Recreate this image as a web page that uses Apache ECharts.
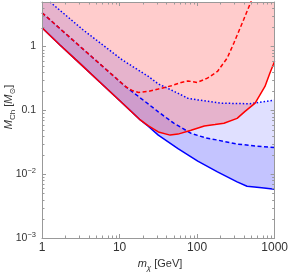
<!DOCTYPE html>
<html><head><meta charset="utf-8">
<script src="https://cdn.jsdelivr.net/npm/echarts@6/dist/echarts.min.js"></script>
<style>html,body{margin:0;padding:0;background:#fff}#c{width:291px;height:274px}</style>
</head><body><div id="c"></div>
<script>
// axis ranges and ticks
const X_MIN = 1, X_MAX = 1000, Y_MIN = 0.001, Y_MAX = 5;
const xTicks = [1, 10, 100, 1000];
const yTicks = [0.001, 0.01, 0.1, 1];
const xMinor = [2,3,4,5,6,7,8,9,20,30,40,50,60,70,80,90,200,300,400,500,600,700,800,900];
const yMinor = [0.002,0.003,0.004,0.005,0.006,0.007,0.008,0.009,0.02,0.03,0.04,0.05,0.06,0.07,0.08,0.09,0.2,0.3,0.4,0.5,0.6,0.7,0.8,0.9,2,3,4];

// red solid (lower edge of red region)
const redSolidM = [1, 1.69, 3, 5.46, 10, 18.5, 23.6, 31.6, 44.9, 56.7, 83.6, 124, 170, 222, 328, 415, 560, 750, 869, 1000];
const redSolidV = [1.97, 1.07, 0.56, 0.284, 0.1426, 0.0708, 0.057, 0.046, 0.041, 0.0425, 0.049, 0.057, 0.060, 0.063, 0.075, 0.0965, 0.13, 0.237, 0.385, 0.59];
// red dashed
const redDashM = [1, 3, 11.9, 14.5, 17.6, 24, 31.6, 46.6, 62.4, 76, 100, 136, 183, 245, 298, 399, 509];
const redDashV = [3.4, 1.04, 0.237, 0.205, 0.191, 0.2, 0.216, 0.243, 0.274, 0.29, 0.274, 0.321, 0.408, 0.664, 1.14, 2.66, 5.5];
// blue solid
const blueSolidM = [1, 1.69, 3, 5.46, 10, 18.5, 23.6, 31.6, 56.7, 102, 183, 328, 440, 682, 1000];
const blueSolidV = [1.97, 1.07, 0.56, 0.284, 0.1426, 0.0708, 0.056, 0.041, 0.0251, 0.016, 0.0109, 0.00757, 0.00647, 0.00613, 0.0058];
// blue dashed
const blueDashM = [1, 3, 11.9, 17.6, 23.6, 31.6, 50, 83.6, 130, 183, 328, 600, 1000];
const blueDashV = [3.4, 1.04, 0.237, 0.165, 0.125, 0.095, 0.063, 0.0437, 0.037, 0.0343, 0.0297, 0.0275, 0.0261];
// blue dotted
const blueDotM = [1.27, 3.35, 10.8, 23.6, 31.6, 50, 76, 102, 200, 480, 1000];
const blueDotV = [5, 1.85, 0.62, 0.34, 0.26, 0.2, 0.155, 0.146, 0.13, 0.127, 0.145];

const zip = (a, b) => a.map((v, i) => [v, b[i]]);
const RS = zip(redSolidM, redSolidV), RD = zip(redDashM, redDashV);
const BS = zip(blueSolidM, blueSolidV), BD = zip(blueDashM, blueDashV), BT = zip(blueDotM, blueDotV);

const polyBlue1 = BS.concat(BT.slice().reverse(), [[X_MIN, Y_MAX]]);
const polyBlue2 = BS.concat(BD.slice().reverse());
const polyRed = RS.concat([[X_MAX, Y_MAX], [X_MIN, Y_MAX]]);

const FONT = '"Liberation Sans", Arial, "DejaVu Sans", sans-serif';
const TXT = '#333';
const AX = '#999';

function poly(points, color) {
  return {
    type: 'custom', coordinateSystem: 'cartesian2d', silent: true, clip: true, z: 1,
    data: [[X_MIN, Y_MIN]],
    renderItem: function (params, api) {
      return { type: 'polygon', shape: { points: points.map(p => api.coord(p)) }, style: { fill: color } };
    }
  };
}
function line(data, color, type, w) {
  return {
    type: 'line', data: data, showSymbol: false, silent: true, z: 2, clip: true,
    lineStyle: { color: color, width: w || 1.5, type: type || 'solid' }
  };
}
const cr = v => Math.round(v) + 0.5;
const minorSeries = {
  type: 'custom', coordinateSystem: 'cartesian2d', silent: true, z: 6,
  data: [[X_MIN, Y_MIN]],
  renderItem: function (params, api) {
    const ch = [];
    const L = 2.5;
    const mk = (x1, y1, x2, y2) => ({ type: 'line', shape: { x1, y1, x2, y2 }, style: { stroke: AX, lineWidth: 1 } });
    xMinor.forEach(v => {
      const b = api.coord([v, Y_MIN]), t = api.coord([v, Y_MAX]);
      ch.push(mk(cr(b[0]), b[1], cr(b[0]), b[1] - L));
      ch.push(mk(cr(t[0]), t[1], cr(t[0]), t[1] + L));
    });
    yMinor.forEach(v => {
      const l = api.coord([X_MIN, v]), r = api.coord([X_MAX, v]);
      ch.push(mk(l[0], cr(l[1]), l[0] + L, cr(l[1])));
      ch.push(mk(r[0], cr(r[1]), r[0] - L, cr(r[1])));
    });
    return { type: 'group', children: ch };
  }
};

function yFmt(v) {
  const e = Math.round(Math.log10(v));
  if (Math.abs(Math.log10(v) - e) > 1e-6) return '';
  if (e === 0) return '1';
  if (e === -1) return '0.1';
  return '10{sup|' + (e < 0 ? '\u2212' + (-e) : e) + '}';
}
function xFmt(v) {
  const e = Math.round(Math.log10(v));
  if (Math.abs(Math.log10(v) - e) > 1e-6) return '';
  return String(Math.round(v));
}

const baseAxisX = {
  type: 'log', logBase: 10, min: X_MIN, max: X_MAX, z: 5,
  axisLine: { show: true, onZero: false, lineStyle: { color: AX, width: 1 } },
  axisTick: { show: true, inside: true, length: 4, lineStyle: { color: AX } },
  splitLine: { show: false }, minorTick: { show: false }
};
const baseAxisY = {
  type: 'log', logBase: 10, min: Y_MIN, max: Y_MAX, z: 5,
  axisLine: { show: true, onZero: false, lineStyle: { color: AX, width: 1 } },
  axisTick: { show: true, inside: true, length: 4, lineStyle: { color: AX } },
  splitLine: { show: false }, minorTick: { show: false }
};

const chart = echarts.init(document.getElementById('c'), null, { renderer: 'canvas' });
chart.setOption({
  animation: false,
  backgroundColor: '#fff',
  grid: { left: 42, right: 13, top: 2, bottom: 36, containLabel: false },
  xAxis: [
    Object.assign({}, baseAxisX, { position: 'bottom',
      axisLabel: { formatter: xFmt, fontSize: 12, fontFamily: FONT, color: TXT, margin: 4, showMaxLabel: true, showMinLabel: true, hideOverlap: false } }),
    Object.assign({}, baseAxisX, { position: 'top', axisLabel: { show: false } })
  ],
  yAxis: [
    Object.assign({}, baseAxisY, { position: 'left',
      axisLabel: { formatter: yFmt, fontSize: 10.5, fontFamily: FONT, color: TXT, margin: 6, lineHeight: 14,
        rich: { sup: { fontSize: 7.5, lineHeight: 7, verticalAlign: 'top', fontFamily: FONT, color: TXT } } } }),
    Object.assign({}, baseAxisY, { position: 'right', axisLabel: { show: false } })
  ],
  graphic: [
    { type: 'text', x: 160, y: 264, silent: true,
      style: { text: '{i|m}{sub|\u03c7} [GeV]', align: 'center', verticalAlign: 'middle',
        fontSize: 11, fontFamily: FONT, fill: TXT, lineHeight: 15,
        rich: { i: { fontStyle: 'italic', fontSize: 11, lineHeight: 15, fontFamily: FONT, fill: TXT },
                sub: { fontStyle: 'italic', fontSize: 8, lineHeight: 10, verticalAlign: 'bottom', fontFamily: FONT, fill: TXT } } } },
    { type: 'text', x: 9, y: 107, rotation: Math.PI / 2, silent: true,
      style: { text: '{i|M}{sub|Ch} [{i|M}{sub|\u2299}]', align: 'center', verticalAlign: 'middle',
        fontSize: 11, fontFamily: FONT, fill: TXT, lineHeight: 15,
        rich: { i: { fontStyle: 'italic', fontSize: 11, lineHeight: 15, fontFamily: FONT, fill: TXT },
                sub: { fontSize: 8, lineHeight: 10, verticalAlign: 'bottom', fontFamily: FONT, fill: TXT } } } }
  ],
  series: [
    poly(polyBlue1, 'rgba(0,0,255,0.12)'),
    poly(polyBlue2, 'rgba(0,0,255,0.12)'),
    poly(polyRed, 'rgba(255,0,0,0.2)'),
    line(BT, '#0000ff', [1.5, 2], 1.5),
    line(BD, '#0000ff', [4, 2.5], 1.5),
    line(BS, '#0000ff', 'solid', 1.5),
    line(RD, '#ff0000', [4, 2.5], 1.5),
    line(RS, '#ff0000', 'solid', 1.5),
    minorSeries
  ]
});
</script>
</body></html>
